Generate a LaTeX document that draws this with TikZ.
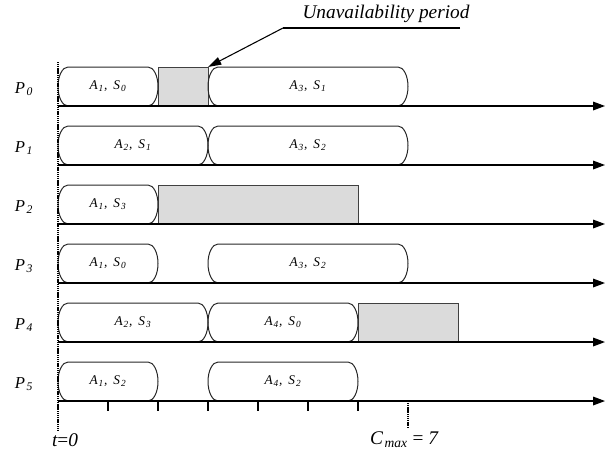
\documentclass[tikz,border=0pt]{standalone}
\usepackage{fontspec}
\setmainfont{Liberation Serif}
\usetikzlibrary{arrows.meta}
\tikzset{
  jobtext/.style={inner sep=0pt, font=\fontsize{10}{12}\selectfont\itshape},
  jobline/.style={draw=black!85, line width=0.75pt},
  unavail/.style={draw=black!75, fill=black!14, line width=0.75pt},
  axisline/.style={line width=0.9pt, -{Triangle[length=9pt,width=6.5pt]}},
  plabel/.style={font=\fontsize{12.5}{14}\selectfont\itshape},
  tickline/.style={line width=0.8pt},
  dotline/.style={line width=1.4pt, dash pattern=on 0.9pt off 0.5pt},
  callout/.style={line width=0.8pt},
  bigtext/.style={font=\fontsize{14.5}{16}\selectfont\itshape}
}
\newcommand\jobbox[5]{%
  \node[jobtext] (#1) at ({58+25*(#2+#3)},{#4-19.5}) {#5};
  \draw[jobline] ({58+50*#2+10},{#4-39}) -- ({58+50*#3-10},{#4-39})
    arc[start angle=-90,end angle=90,x radius=10,y radius=19.5]
    -- ({58+50*#2+10},#4)
    arc[start angle=90,end angle=270,x radius=10,y radius=19.5] -- cycle;
}
\newcommand\mysub[1]{\hspace{0.08em}\textsubscript{#1}}
\newcommand\jl[4]{A\mysub{#1},\hspace{0.45em}S\mysub{#2}}
\begin{document}
\begin{tikzpicture}[x=0.75pt,y=-0.75pt]
\useasboundingbox (0,0) rectangle (605,455);
% gray unavailability periods
\draw[unavail] (158,67) rectangle (208,106);
\draw[unavail] (158,185) rectangle (358,224);
\draw[unavail] (358,303) rectangle (458,342);
% jobs
\jobbox{j00}{0}{2}{106}{\jl{1}{0}{}{}}
\jobbox{j01}{3}{7}{106}{\jl{3}{1}{}{}}
\jobbox{j10}{0}{3}{165}{\jl{2}{1}{}{}}
\jobbox{j11}{3}{7}{165}{\jl{3}{2}{}{}}
\jobbox{j20}{0}{2}{224}{\jl{1}{3}{}{}}
\jobbox{j30}{0}{2}{283}{\jl{1}{0}{}{}}
\jobbox{j31}{3}{7}{283}{\jl{3}{2}{}{}}
\jobbox{j40}{0}{3}{342}{\jl{2}{3}{}{}}
\jobbox{j41}{3}{6}{342}{\jl{4}{0}{}{}}
\jobbox{j50}{0}{2}{401}{\jl{1}{2}{}{}}
\jobbox{j51}{3}{6}{401}{\jl{4}{2}{}{}}
% machine axes
\foreach \r/\y in {0/106,1/165,2/224,3/283,4/342,5/401}{
  \coordinate (s\r) at (58,\y);
  \coordinate (e\r) at (605,\y);
  \draw[axisline] (s\r) -- (e\r);
  \node[plabel] (p\r) at (24,{\y-17}) {P\mysub{\r}};
}
% ticks
\foreach \i in {1,...,6}{
  \coordinate (tk\i) at ({58+50*\i},401);
  \draw[tickline] (tk\i) -- ++(0,10);
}
\coordinate (cm) at (408,401);
\coordinate (cmb) at (408,428);
\draw[dotline] (cm) -- (cmb);
% time zero line
\coordinate (z0) at (58,62);
\coordinate (z1) at (58,431);
\draw[dotline] (z0) -- (z1);
\node[bigtext] (t0) at (65,440) {t\upshape=\itshape 0};
\node[bigtext] (cmax) at (404,440) {C\mysub{max} \upshape= \itshape 7};
% callout
\coordinate (ca) at (460,28);
\coordinate (cb) at (283,28);
\coordinate (tip) at (208,67);
\draw[callout] (ca) -- (cb);
\draw[callout, -{Triangle[length=10pt,width=6pt]}] (cb) -- (tip);
\node[bigtext] (ua) at (386,14) {Unavailability period};
\end{tikzpicture}
\end{document}
